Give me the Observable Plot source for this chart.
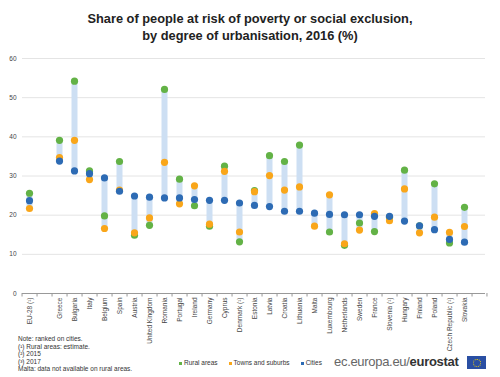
<!DOCTYPE html>
<html>
<head>
<meta charset="utf-8">
<script src="https://cdn.jsdelivr.net/npm/d3@7"></script>
<script src="https://cdn.jsdelivr.net/npm/@observablehq/plot@0.6"></script>
<style>
  body { margin: 0; width: 500px; height: 377px; background: #fff; position: relative; overflow: hidden; font-family: "Liberation Sans", Arial, sans-serif; }
  #title { position: absolute; top: 10px; left: 0; width: 500px; text-align: center; font-weight: bold; font-size: 12.8px; line-height: 17px; color: #222; }
  #chart { position: absolute; top: 48px; left: 0; }
  #chart svg { overflow: visible; }
  #notes { position: absolute; left: 18px; top: 335px; font-size: 6.5px; line-height: 7.5px; color: #333; }
  #legend { position: absolute; left: 179px; top: 359px; font-size: 6.5px; color: #333; white-space: nowrap; }
  #legend span.b { display: inline-block; width: 3px; height: 3px; margin-right: 2px; vertical-align: middle; }
  #legend span.i { margin-right: 11px; }
  #logo { position: absolute; left: 334px; top: 354px; font-size: 13px; color: #666; white-space: nowrap; letter-spacing: -0.3px; }
  #logo b { color: #333; }
  #flag { position: absolute; left: 467px; top: 356px; width: 19px; height: 13px; background: #2a4fa3; }
  #flag div { position: absolute; left: 5.5px; top: 2.5px; width: 6px; height: 6px; border: 1px dotted #f5d20a; border-radius: 50%; }
</style>
</head>
<body>
<div id="title">Share of people at risk of poverty or social exclusion,<br>by degree of urbanisation, 2016 (%)</div>
<div id="chart"></div>
<div id="notes">Note: ranked on cities.<br>(¹) Rural areas: estimate.<br>(²) 2015<br>(³) 2017<br>Malta: data not available on rural areas.</div>
<div id="legend"><span class="b" style="background:#63b246"></span><span class="i">Rural areas</span><span class="b" style="background:#f9a61a"></span><span class="i">Towns and suburbs</span><span class="b" style="background:#2d6bb4"></span><span>Cities</span></div>
<div id="logo">ec.europa.eu/<b>eurostat</b></div>
<div id="flag"><div></div></div>
<script>
const countries = ["EU-28 (¹)", "_gap1", "Greece", "Bulgaria", "Italy", "Belgium", "Spain", "Austria", "United Kingdom", "Romania", "Portugal", "Ireland", "Germany", "Cyprus", "Denmark (¹)", "Estonia", "Latvia", "Croatia", "Lithuania", "Malta", "Luxembourg", "Netherlands", "Sweden", "France", "Slovenia (¹)", "Hungary", "Finland", "Poland", "Czech Republic (¹)", "Slovakia", "_gap2"];
const rural  = [25.6, null, 39.1, 54.2, 31.3, 19.8, 33.7, 14.9, 17.4, 52.1, 29.2, 22.4, 17.2, 32.5, 13.2, 26.3, 35.2, 33.7, 37.9, null, 15.7, 12.3, 18.0, 15.8, 19.5, 31.5, 17.3, 28.0, 12.9, 22.0, null];
const towns  = [21.7, null, 34.7, 39.1, 29.1, 16.6, 26.4, 15.5, 19.3, 33.5, 22.9, 27.5, 17.7, 31.2, 15.7, 26.0, 30.1, 26.4, 27.2, 17.2, 25.2, 12.7, 16.2, 20.4, 18.6, 26.7, 15.5, 19.5, 15.6, 17.1, null];
const cities = [23.7, null, 33.8, 31.3, 30.6, 29.5, 26.1, 24.9, 24.6, 24.4, 24.4, 24.0, 23.8, 23.8, 23.1, 22.5, 22.2, 21.0, 21.0, 20.5, 20.2, 20.1, 20.1, 19.7, 19.7, 18.5, 17.3, 16.3, 13.8, 13.1, null];
const yTicks = [0, 10, 20, 30, 40, 50, 60];

const data = countries.map((c, i) => ({country: c, rural: rural[i], towns: towns[i], cities: cities[i]}));
const real = data.filter(d => !d.country.startsWith("_"));
const ext = d => { const v = [d.rural, d.towns, d.cities].filter(x => x != null); return [d3.min(v), d3.max(v)]; };

const W = 500, mL = 22, mR = 15;
const half = (W - mL - mR) / countries.length / 2;

const chart = Plot.plot({
  width: W,
  height: 287,
  marginLeft: mL,
  marginRight: mR,
  marginTop: 10,
  marginBottom: 42,
  style: {fontFamily: "'Liberation Sans', Arial, sans-serif", background: "transparent"},
  x: {domain: countries, padding: 0},
  y: {domain: [0, 60]},
  marks: [
    Plot.ruleY(yTicks.slice(1), {stroke: "#e4e4e4", strokeWidth: 1}),
    Plot.ruleY([0], {stroke: "#999", strokeWidth: 1}),
    Plot.ruleX(countries, {x: d => d, y1: 0, y2: -0.9, dx: -half, stroke: "#999", strokeWidth: 1}),
    Plot.ruleX([countries[countries.length - 1]], {x: d => d, y1: 0, y2: -0.9, dx: half, stroke: "#999", strokeWidth: 1}),
    Plot.ruleX(real, {x: "country", y1: d => ext(d)[0], y2: d => ext(d)[1], stroke: "#cddff3", strokeWidth: 6}),
    Plot.dot(real.filter(d => d.rural != null), {x: "country", y: "rural", r: 3.6, fill: "#63b246"}),
    Plot.dot(real, {x: "country", y: "towns", r: 3.6, fill: "#f9a61a"}),
    Plot.dot(real, {x: "country", y: "cities", r: 3.6, fill: "#2d6bb4"}),
    Plot.axisY({ticks: yTicks, tickSize: 0, tickPadding: 6, fontSize: 6.5, fill: "#444", label: null}),
    Plot.axisX({tickSize: 0, tickPadding: 4, tickRotate: -90, fontSize: 6.5, fill: "#444", label: null,
      tickFormat: d => d.startsWith("_") ? "" : d})
  ]
});
document.getElementById("chart").appendChild(chart);
</script>
</body>
</html>
